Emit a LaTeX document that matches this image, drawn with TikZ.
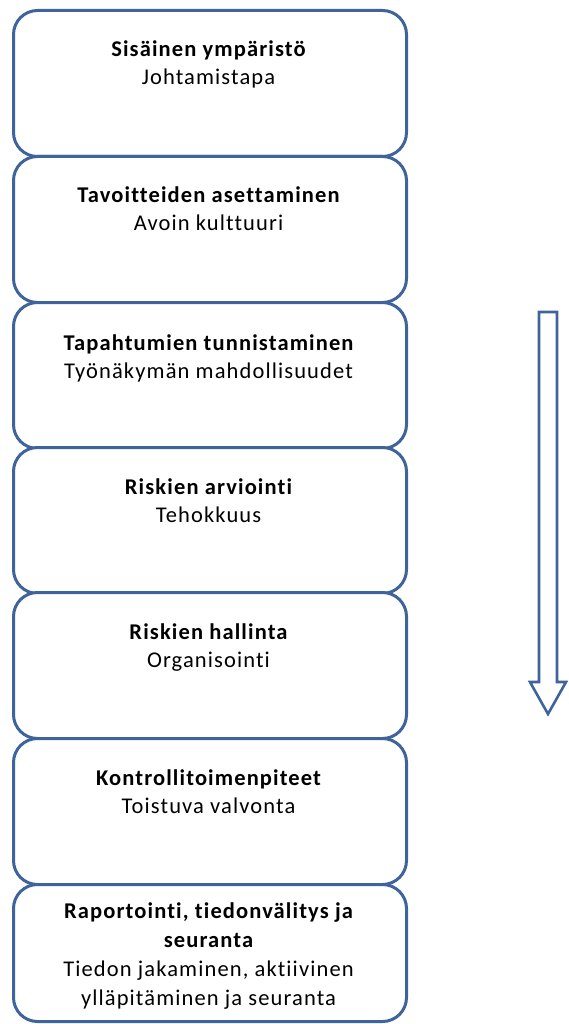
\documentclass[tikz,border=0pt]{standalone}
\usepackage{fontspec}
\setmainfont{Carlito}[LetterSpace=5, Ligatures=NoCommon]
\definecolor{boxblue}{RGB}{62,100,155}
\tikzset{
  stagebox/.style={draw=boxblue, line width=3pt, rounded corners=24pt, fill=white,
    minimum width=393pt, minimum height=146pt, anchor=north west, inner sep=0pt},
  ttl/.style={anchor=base, inner sep=0pt, font=\fontsize{22.5}{28.5}\selectfont\bfseries, text=black},
  sub/.style={anchor=base, inner sep=0pt, font=\fontsize{22.5}{28.5}\selectfont, text=black},
}
\begin{document}
\begin{tikzpicture}[x=1pt,y=-1pt]
\useasboundingbox (0,0) rectangle (568,1024);
% boxes
\node[stagebox] (b1) at (12,9) {};
\node[stagebox] (b2) at (12,155) {};
\node[stagebox] (b3) at (12,301) {};
\node[stagebox] (b4) at (12,446) {};
\node[stagebox] (b5) at (12,591) {};
\node[stagebox] (b6) at (12,737) {};
\node[stagebox, minimum height=137pt] (b7) at (12,883) {};
% texts
\node[ttl] (t1) at (208.5,57) {Sisäinen ympäristö};
\node[sub] (s1) at (208.5,85) {Johtamistapa};
\node[ttl] (t2) at (208.5,203) {Tavoitteiden asettaminen};
\node[sub] (s2) at (208.5,231) {Avoin kulttuuri};
\node[ttl] (t3) at (208.5,350) {Tapahtumien tunnistaminen};
\node[sub] (s3) at (208.5,378) {Työnäkymän mahdollisuudet};
\node[ttl] (t4) at (208.5,494) {Riskien arviointi};
\node[sub] (s4) at (208.5,522) {Tehokkuus};
\node[ttl] (t5) at (208.5,639) {Riskien hallinta};
\node[sub] (s5) at (208.5,667) {Organisointi};
\node[ttl] (t6) at (208.5,785) {Kontrollitoimenpiteet};
\node[sub] (s6) at (208.5,813) {Toistuva valvonta};
\node[ttl] (t7a) at (208.5,918) {Raportointi, tiedonvälitys ja};
\node[ttl] (t7b) at (208.5,947) {seuranta};
\node[sub] (s7a) at (208.5,976) {Tiedon jakaminen, aktiivinen};
\node[sub] (s7b) at (208.5,1005) {ylläpitäminen ja seuranta};
% block arrow
\draw[draw=boxblue, line width=2.6pt, line join=miter, fill=white]
  (539,312) -- (557,312) -- (557,682) -- (566,682) -- (548,714) -- (530,682) -- (539,682) -- cycle;
\end{tikzpicture}
\end{document}
